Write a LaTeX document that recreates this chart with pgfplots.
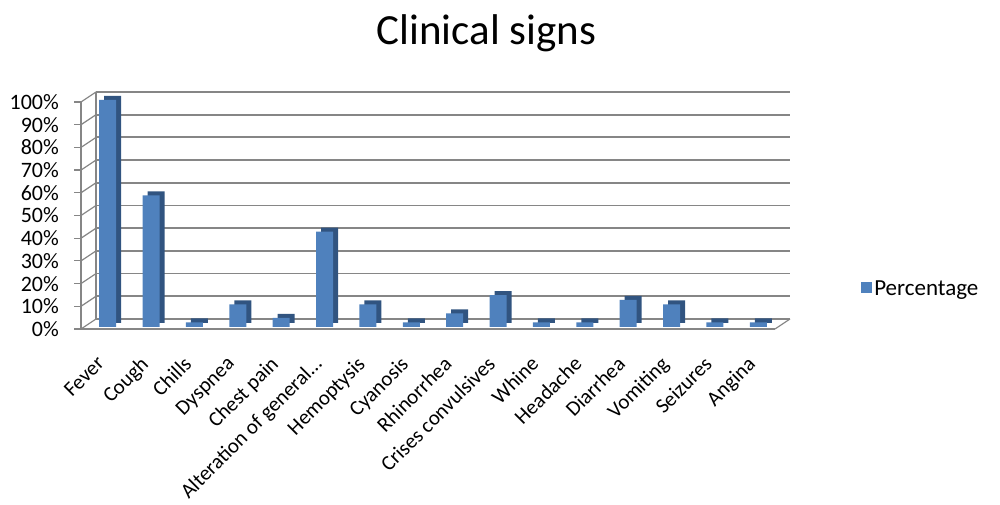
\documentclass[border=0pt]{standalone}
\usepackage{pgfplots}
\pgfplotsset{compat=1.18}
\usepackage{fontspec}
\setmainfont{Carlito}
\definecolor{barfront}{RGB}{79,129,189}
\definecolor{barside}{RGB}{49,84,128}
\definecolor{gridc}{RGB}{134,134,134}
\begin{document}
\begin{tikzpicture}[x=1pt,y=1pt]
\path[use as bounding box] (0,0) rectangle (1000,505);
\node[anchor=base,font=\fontsize{43}{48}\selectfont] at (486.5,460) {Clinical signs};
\begin{axis}[
  at={(81pt,176pt)}, anchor=south west,
  scale only axis, width=694pt, height=227pt,
  xmin=-0.5, xmax=15.5, ymin=0, ymax=100,
  axis x line*=bottom, axis y line*=left,
  axis line style={gridc, line width=1.2pt, -},
  ybar, bar width=17pt, bar shift=0pt,
  xtick={0,...,15},
  xticklabels={Fever,Cough,Chills,Dyspnea,Chest pain,Alteration of general…,Hemoptysis,Cyanosis,Rhinorrhea,Crises convulsives,Whine,Headache,Diarrhea,Vomiting,Seizures,Angina},
  x tick style={draw=none},
  extra x ticks={-0.5,0.5,...,15.5},
  extra x tick labels={},
  extra x tick style={major tick length=8pt, tick align=outside, tick style={draw=gridc, line width=1.2pt}, grid=none},
  xticklabel style={xshift=-7pt, yshift=-19pt, rotate=45, anchor=north east, inner sep=0pt, font=\fontsize{21}{25}\selectfont},
  ytick={0,10,...,100},
  yticklabel={\pgfmathprintnumber{\tick}\%},
  /pgf/number format/assume math mode=true,
  yticklabel style={font=\fontsize{22}{26}\selectfont, inner sep=0pt, xshift=-15pt},
  y tick style={draw=gridc, line width=1.2pt},
  tick align=outside, major tick length=7pt,
  ymajorgrids=true,
  major grid style={gridc, line width=1.8pt, xshift=15pt, yshift=10pt},
  clip=false,
  legend style={draw=none, at={(1.124,0.176)}, anchor=west, font=\fontsize{23}{27}\selectfont, inner sep=0pt, row sep=0pt},
  legend image code/.code={\fill[barfront] (-4pt,-5.5pt) rectangle (7pt,5.5pt);},
]
\pgfplotsinvokeforeach{0,10,...,100}{
  \draw[gridc, line width=1.2pt] (axis cs:-0.5,#1) -- ++(15pt,10pt);
}
\draw[gridc, line width=1.2pt] (axis cs:-0.5,0) ++(15pt,10pt) -- ([xshift=15pt,yshift=10pt]axis cs:-0.5,100);
\draw[gridc, line width=1.2pt] (axis cs:15.5,0) -- ++(15pt,10pt);
\addplot[fill=barside, draw=none, xshift=10pt, yshift=6pt, forget plot] coordinates {
(0,100) (1,58) (2,2) (3,10) (4,4) (5,42) (6,10) (7,2) (8,6) (9,14) (10,2) (11,2) (12,12) (13,10) (14,2) (15,2)};
\addplot[fill=barfront, draw=none, xshift=5pt, yshift=2pt] coordinates {
(0,100) (1,58) (2,2) (3,10) (4,4) (5,42) (6,10) (7,2) (8,6) (9,14) (10,2) (11,2) (12,12) (13,10) (14,2) (15,2)};
\legend{Percentage}
\end{axis}
\end{tikzpicture}
\end{document}
